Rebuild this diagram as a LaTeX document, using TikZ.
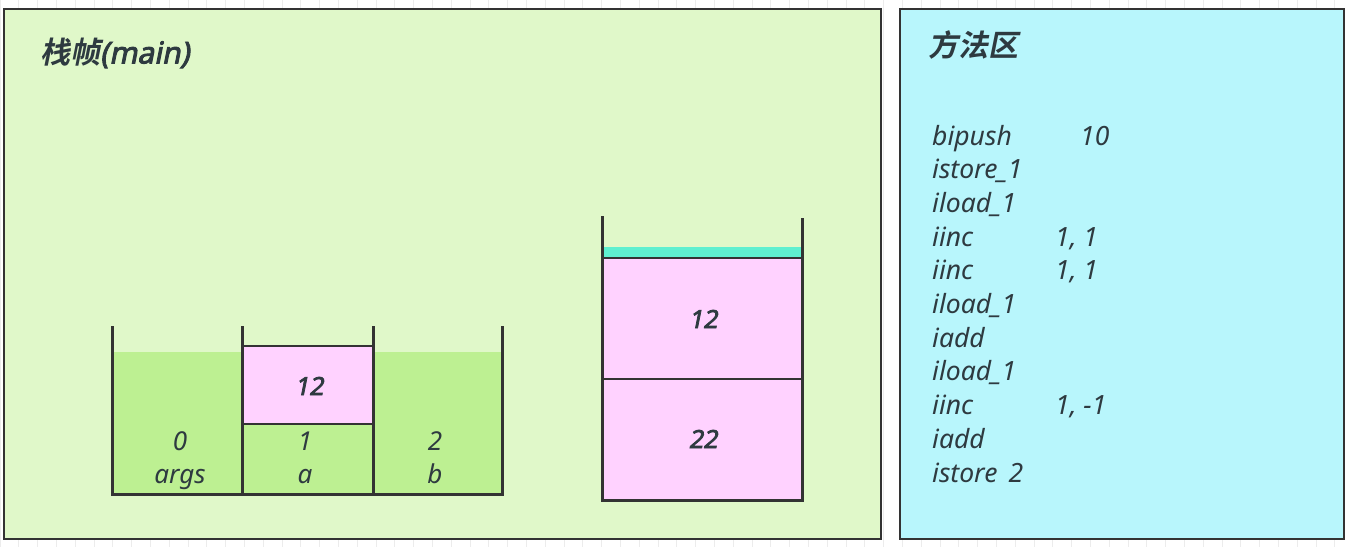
\documentclass[tikz,border=0pt]{standalone}
\usepackage{fontspec}
\setmainfont{Noto Sans}
\newfontfamily\cjkb[FakeSlant=0.2]{Noto Sans CJK SC Bold}
\newfontfamily\bi[FakeSlant=0.2, FakeBold=3]{Noto Sans}
\definecolor{gridc}{HTML}{ECECEC}
\definecolor{panelg}{HTML}{E0F8C9}
\definecolor{panelc}{HTML}{B8F6FC}
\definecolor{cellg}{HTML}{BDF092}
\definecolor{cellp}{HTML}{FFD2FF}
\definecolor{strip}{HTML}{5EF0D0}
\definecolor{ink}{HTML}{333333}
\definecolor{txt}{HTML}{2E3A40}
\tikzset{
  panel/.style={draw=ink, line width=1.5pt, anchor=north west, inner sep=0pt},
  title/.style={anchor=west, inner sep=0pt, text=txt, font=\fontsize{30}{34}\selectfont\bi},
  lbl/.style={anchor=base, inner sep=0pt, text=txt, font=\fontsize{26}{30}\selectfont\itshape},
  val/.style={inner sep=0pt, text=txt, font=\fontsize{25}{30}\selectfont\bi},
  code/.style={anchor=base west, inner sep=0pt, text=txt, font=\fontsize{26.5}{30}\selectfont\itshape},
  wall/.style={draw=ink, line width=3pt},
  gcell/.style={fill=cellg, draw=none, inner sep=0pt},
  pcell/.style={fill=cellp, draw=ink, line width=1.5pt, inner sep=0pt},
}
\begin{document}
\begin{tikzpicture}[x=1pt,y=-1pt]
\useasboundingbox (0,0) rectangle (1350,547);
\fill[white] (0,0) rectangle (1350,547);
\draw[gridc, line width=0.8pt, step=18.8] (0,0) grid (1350,547);
% panels
\node[panel, fill=panelg, minimum width=877, minimum height=530] (stack) at (3,8) {};
\node[panel, fill=panelc, minimum width=444, minimum height=530] (method) at (899,8) {};
\node[title] (stitle) at (40,53) {{\cjkb 栈帧}(main)};
\node[title] (mtitle) at (928,45) {{\cjkb 方法区}};
% local variable table
\node[gcell, minimum width=130, minimum height=142, anchor=north west] (v0) at (112,352) {};
\node[gcell, minimum width=129, minimum height=142, anchor=north west] (v2) at (373,352) {};
\node[gcell, minimum width=131, minimum height=71, anchor=north west] (v1) at (242,423) {};
\node[pcell, minimum width=131, minimum height=78, anchor=north west] (v1top) at (242,345) {};
\node[val] (v1val) at (309,386) {12};
\draw[wall] (112,326) -- (112,494) -- (502,494) -- (502,326);
\draw[wall] (242,326) -- (242,494);
\draw[wall] (373,326) -- (373,494);
\node[lbl] (n0) at (180,450) {0};
\node[lbl] (a0) at (180,483) {args};
\node[lbl] (n1) at (305,450) {1};
\node[lbl] (a1) at (305,483) {a};
\node[lbl] (n2) at (435,450) {2};
\node[lbl] (a2) at (435,483) {b};
% operand stack
\node[fill=strip, inner sep=0pt, minimum width=200, minimum height=10, anchor=north west] (top) at (602,247) {};
\node[pcell, minimum width=200, minimum height=121, anchor=north west] (s1) at (602,257) {};
\node[pcell, minimum width=200, minimum height=121, anchor=north west] (s2) at (602,378) {};
\node[val] (s1val) at (703,319) {12};
\node[val] (s2val) at (703,439) {22};
\draw[wall] (602,216) -- (602,500) -- (802,500) -- (802,218);
% bytecode
\node[code] (c1) at (932,145) {\makebox[148pt][l]{bipush}10};
\node[code] (c2) at (932,178.7) {istore\_1};
\node[code] (c3) at (932,212.4) {iload\_1};
\node[code] (c4) at (932,246.1) {\makebox[123pt][l]{iinc}1, 1};
\node[code] (c5) at (932,279.8) {\makebox[123pt][l]{iinc}1, 1};
\node[code] (c6) at (932,313.5) {iload\_1};
\node[code] (c7) at (932,347.2) {iadd};
\node[code] (c8) at (932,380.9) {iload\_1};
\node[code] (c9) at (932,414.6) {\makebox[123pt][l]{iinc}1, -1};
\node[code] (c10) at (932,448.3) {iadd};
\node[code] (c11) at (932,482) {istore\ \,2};
\end{tikzpicture}
\end{document}
